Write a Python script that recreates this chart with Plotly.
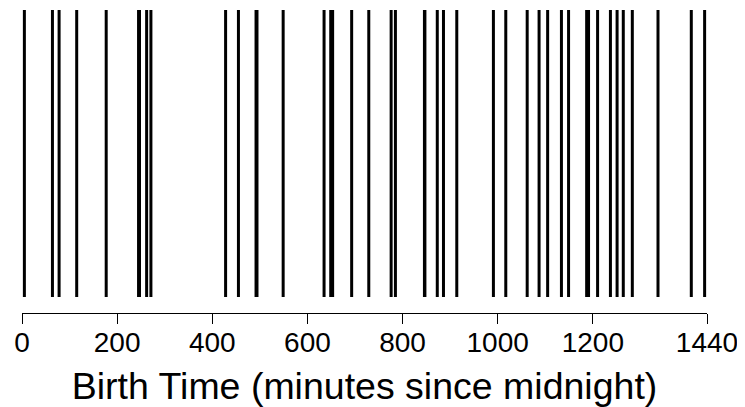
import plotly.graph_objects as go

birth_minutes = [5, 64, 78, 115, 177, 245, 247, 262, 271, 428, 455, 492, 494, 549,
                 635, 649, 653, 693, 729, 776, 785, 846, 847, 873, 886, 914, 991,
                 1017, 1062, 1087, 1105, 1134, 1149, 1187, 1189, 1191, 1210, 1237,
                 1251, 1264, 1283, 1337, 1407, 1435]
tick_values = [0, 200, 400, 600, 800, 1000, 1200, 1440]
tick_labels = ["0", "200", "400", "600", "800", "1000", "1200", "1440"]
x_title = "Birth Time (minutes since midnight)"

xs, ys = [], []
for t in birth_minutes:
    xs += [t, t, None]
    ys += [0, 1, None]

fig = go.Figure(go.Scatter(x=xs, y=ys, mode="lines",
                           line=dict(color="black", width=3),
                           hoverinfo="skip", showlegend=False))

fig.update_layout(
    width=737, height=399,
    margin=dict(l=14, r=38, t=2, b=94),
    paper_bgcolor="white", plot_bgcolor="white",
    font=dict(family="Liberation Sans, Arial, sans-serif", color="black"),
    xaxis=dict(range=[0, 1440], tickvals=tick_values, ticktext=tick_labels,
               automargin=False,
               showgrid=False, zeroline=False, showline=True, linecolor="black",
               linewidth=1, ticks="outside", ticklen=10, tickcolor="black",
               tickwidth=1, tickfont=dict(size=28), ticklabelstandoff=-6,
               title=dict(text=x_title, font=dict(size=37.5), standoff=20)),
    yaxis=dict(range=[-0.0557, 1], visible=False, automargin=False),
)

fig.write_html("out.html")
